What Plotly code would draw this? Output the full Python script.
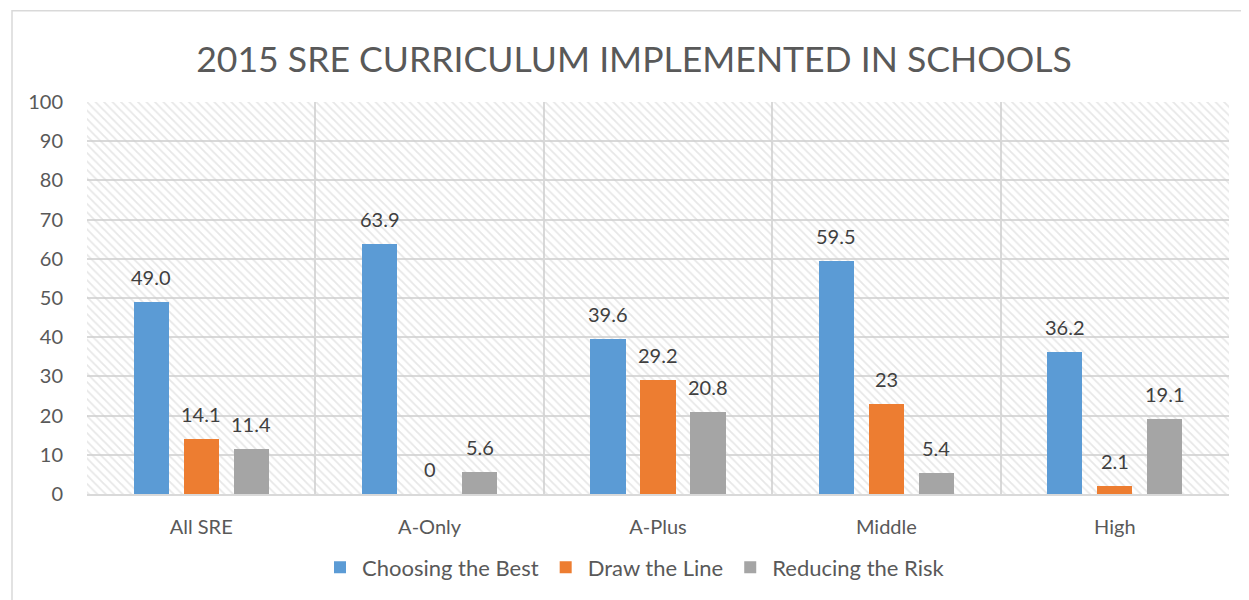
import plotly.graph_objects as go

categories = ["All SRE", "A-Only", "A-Plus", "Middle", "High"]
series_names = ["Choosing the Best", "Draw the Line", "Reducing the Risk"]
choosing_best = [49.0, 63.9, 39.6, 59.5, 36.2]
draw_line = [14.1, 0, 29.2, 23, 2.1]
reducing_risk = [11.4, 5.6, 20.8, 5.4, 19.1]
label_text = [
    ["49.0", "63.9", "39.6", "59.5", "36.2"],
    ["14.1", "0", "29.2", "23", "2.1"],
    ["11.4", "5.6", "20.8", "5.4", "19.1"],
]
y_ticks = list(range(0, 101, 10))

colors = ["#5B9BD5", "#ED7D31", "#A5A5A5"]
values = [choosing_best, draw_line, reducing_risk]
offsets = [-0.219, 0.0, 0.219]
bar_w = 0.154
FONT = "Lato"

# page body has an 8px margin; figure is sized/placed to compensate
W, H = 1241, 592
L, R, T, B = 79, 20, 94, 103
pw = W - L - R
ph = H - T - B

xs = list(range(len(categories)))
fig = go.Figure()

# hatched plot background
fig.add_trace(go.Bar(
    x=[(len(categories) - 1) / 2], y=[100], width=[len(categories)],
    marker=dict(color="rgba(0,0,0,0)", line=dict(width=0),
                pattern=dict(shape="\\", fgcolor="#d0d0d0", bgcolor="rgba(0,0,0,0)",
                             size=6, solidity=0.3)),
    showlegend=False, hoverinfo="skip",
))

for name, vals, col, off in zip(series_names, values, colors, offsets):
    fig.add_trace(go.Bar(
        x=[x + off for x in xs], y=vals, width=bar_w, name=name,
        marker=dict(color=col, line=dict(width=0)),
    ))

annotations = []
for vals, texts, off in zip(values, label_text, offsets):
    for x, v, t in zip(xs, vals, texts):
        annotations.append(dict(
            x=x + off, y=v, text=t, showarrow=False, xanchor="center",
            yanchor="bottom", yshift=11,
            font=dict(family=FONT, size=20, color="#404040"),
        ))

fig.update_layout(
    width=W, height=H,
    margin=dict(l=L, r=R, t=T, b=B),
    paper_bgcolor="white", plot_bgcolor="white",
    barmode="overlay",
    title=dict(text="2015 SRE CURRICULUM IMPLEMENTED IN SCHOOLS",
               x=(634 - 8 - L) / pw, xref="paper", xanchor="center",
               y=1 - (60 - 8) / H, yref="container", yanchor="middle",
               font=dict(family=FONT, size=35.6, color="#595959")),
    xaxis=dict(range=[-0.5, len(categories) - 0.5], tickvals=xs, ticktext=categories,
               showgrid=False, zeroline=False, showline=True, linecolor="#d9d9d9",
               linewidth=1.5, ticks="", ticklabelstandoff=14,
               tickfont=dict(family=FONT, size=20, color="#595959"),
               minor=dict(tick0=-0.5, dtick=1, showgrid=True, gridcolor="#d9d9d9",
                          gridwidth=1.5, ticks="")),
    yaxis=dict(range=[0, 100], tickvals=y_ticks, showgrid=True, gridcolor="#d9d9d9",
               gridwidth=1.5, zeroline=False, ticks="", ticklabelstandoff=23,
               tickfont=dict(family=FONT, size=20, color="#595959")),
    legend=dict(orientation="h", x=(634 - 8 - L) / pw, xanchor="center",
                y=(H - B - (571 - 8)) / ph, yanchor="middle",
                font=dict(family=FONT, size=22, color="#595959"),
                itemwidth=34, tracegroupgap=0),
    annotations=annotations,
    shapes=[dict(type="rect", xref="paper", yref="paper",
                 x0=(12 - 8 - L) / pw, x1=(1270 - 8 - L) / pw,
                 y0=-0.5, y1=(H - B - (10 - 8)) / ph,
                 line=dict(color="#d9d9d9", width=1.5), layer="below")],
    bargap=0,
)

fig.write_html("out.html")
